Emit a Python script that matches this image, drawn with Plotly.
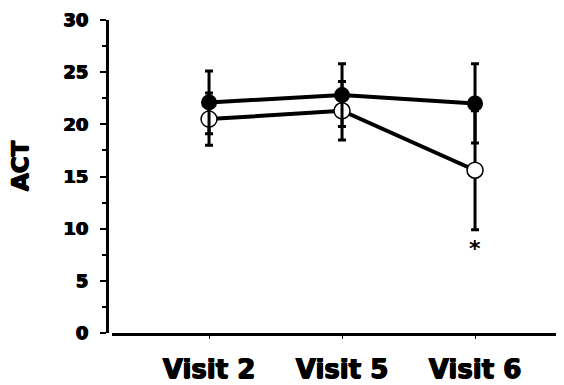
import plotly.graph_objects as go

visits = ["Visit 2", "Visit 5", "Visit 6"]
filled_mean = [22.1, 22.8, 22.0]
filled_err = [3.0, 3.0, 3.8]
open_mean = [20.5, 21.3, 15.6]
open_err = [2.5, 2.8, 5.7]
y_ticks = [0, 5, 10, 15, 20, 25, 30]
star_label = "*"
star_y = 8.1

FONT = "DejaVu Sans"
HEAVY = "0.7px 0 0 black, -0.7px 0 0 black, 0 0.4px 0 black"

fig = go.Figure()

fig.add_trace(go.Scatter(
    x=visits, y=open_mean, mode="lines+markers",
    line=dict(color="black", width=4),
    marker=dict(size=16, color="white", line=dict(color="black", width=1.5)),
    error_y=dict(type="data", array=open_err, color="black", thickness=3, width=4),
    showlegend=False,
))
fig.add_trace(go.Scatter(
    x=visits, y=filled_mean, mode="lines+markers",
    line=dict(color="black", width=4),
    marker=dict(size=16, color="black"),
    error_y=dict(type="data", array=filled_err, color="black", thickness=3, width=4),
    showlegend=False,
))

fig.add_annotation(x=visits[2], y=star_y, text=star_label, showarrow=False,
                   font=dict(family=FONT, size=22, color="black", weight="bold"))
fig.add_annotation(x=-0.19, y=0.534, xref="paper", yref="paper", text="ACT",
                   textangle=-90, showarrow=False, xanchor="center", yanchor="middle",
                   font=dict(family=FONT, size=23, color="black", weight="bold", shadow=HEAVY))

fig.update_layout(
    width=556, height=377,
    margin=dict(l=99, r=0, t=12, b=52),
    paper_bgcolor="white", plot_bgcolor="white",
    xaxis=dict(
        type="category", domain=[0.012, 1], range=[-0.726, 2.669],
        showline=True, linecolor="black", linewidth=3,
        ticks="outside", ticklen=3, tickcolor="black", tickwidth=1,
        tickfont=dict(family=FONT, size=26, color="black", weight="bold", shadow=HEAVY),
        showgrid=False, zeroline=False, ticklabelstandoff=8, automargin=False,
    ),
    yaxis=dict(
        range=[0, 30], anchor="free", position=0,
        tickvals=y_ticks,
        showline=True, linecolor="black", linewidth=3,
        ticks="outside", ticklen=6, tickcolor="black", tickwidth=1.5,
        minor=dict(dtick=2.5, ticks="outside", ticklen=4, tickcolor="black", tickwidth=1.5),
        tickfont=dict(family=FONT, size=18, color="black", weight="bold", shadow=HEAVY),
        showgrid=False, zeroline=False, ticklabelstandoff=8, automargin=False,
    ),
)

fig.write_html("out.html")
